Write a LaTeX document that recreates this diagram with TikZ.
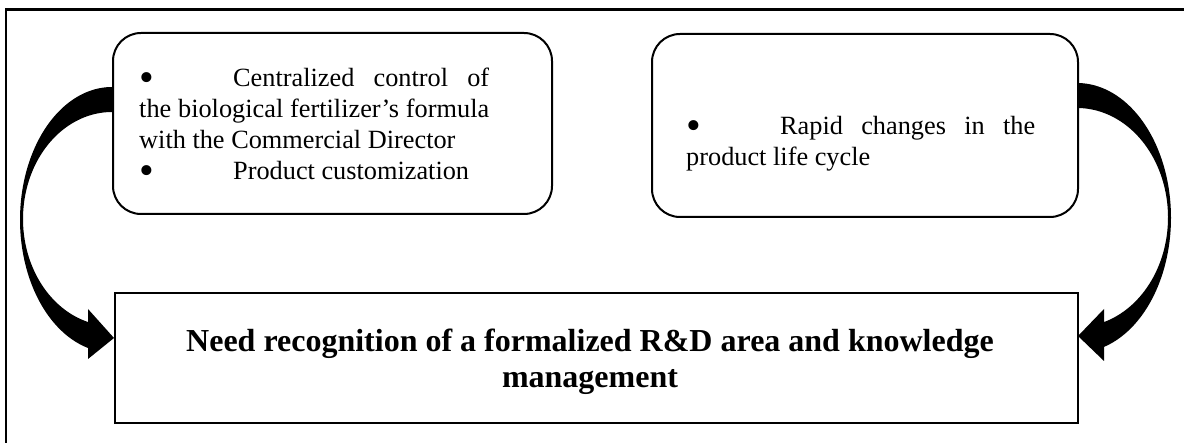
\documentclass[tikz,border=0pt]{standalone}
\usepackage{fontspec}
\setmainfont{Liberation Serif}
% a larger list bullet, centred on the x-height
\newcommand{\bigbul}{\makebox[94pt][l]{\hspace{0.5pt}\raisebox{-4.6pt}{\fontsize{42pt}{42pt}\selectfont •}}}
\begin{document}
\begin{tikzpicture}[x=1pt,y=-1pt,
  rbox/.style={draw, line width=2pt, rounded corners=28pt, inner sep=0pt, anchor=north west},
  sbox/.style={draw, line width=2pt, inner sep=0pt, anchor=north west},
  txt/.style={inner sep=0pt, anchor=base west, font=\fontsize{26.3pt}{31pt}\selectfont},
  bigtxt/.style={inner sep=0pt, anchor=base, font=\fontsize{32pt}{36pt}\selectfont\bfseries},
  bendarrow/.style={fill=black, draw=none}]

\useasboundingbox (0,0) rectangle (1184,443);
\clip (0,0) rectangle (1184,443);

% outer frame (runs off the right and bottom edges)
\draw[line width=2.2pt] (6,9.5) rectangle (1210,470);

% boxes
\node[rbox, minimum width=439pt, minimum height=181pt] (lbox) at (112,32) {};
\node[rbox, minimum width=426pt, minimum height=183pt] (rbox) at (651,33) {};
\node[sbox, minimum width=963pt, minimum height=130pt] (goal) at (114,292) {};

% texts
\node[txt] (ltext) at (139,87) {\vtop{\baselineskip=31pt
  \hbox to 350pt{\bigbul Centralized control of}
  \hbox to 350pt{the biological fertilizer’s formula}
  \hbox{with the Commercial Director}
  \hbox{\bigbul Product customization}}};
\node[txt] (rtext) at (686,135) {\vtop{\baselineskip=31pt
  \hbox to 349pt{\bigbul Rapid changes in the}
  \hbox{product life cycle}}};
\node[bigtxt] (mtext) at (590,352) {\vtop{\baselineskip=36pt
  \hbox to 820pt{\hfil Need recognition of a formalized R\&D area and knowledge\hfil}
  \hbox to 820pt{\hfil management\hfil}}};

% curved block arrows into the bottom box
\fill[bendarrow] (112,87)
  -- plot[domain=270:105.1, samples=90] ({112+92*cos(\x)}, {219.8+132.8*sin(\x)})
  -- (88,359) -- (114,338) -- (88,309)
  -- plot[domain=105.6:270, samples=90] ({112+89*cos(\x)}, {219+107*sin(\x)})
  -- cycle;
\fill[bendarrow] (1077,83)
  -- plot[domain=-90:73.3, samples=90] ({1077+94*cos(\x)}, {217.8+134.8*sin(\x)})
  -- (1104,361) -- (1078,336) -- (1104,309)
  -- plot[domain=72.74:-90, samples=90] ({1077+91*cos(\x)}, {217.5+109.5*sin(\x)})
  -- cycle;
\end{tikzpicture}
\end{document}
